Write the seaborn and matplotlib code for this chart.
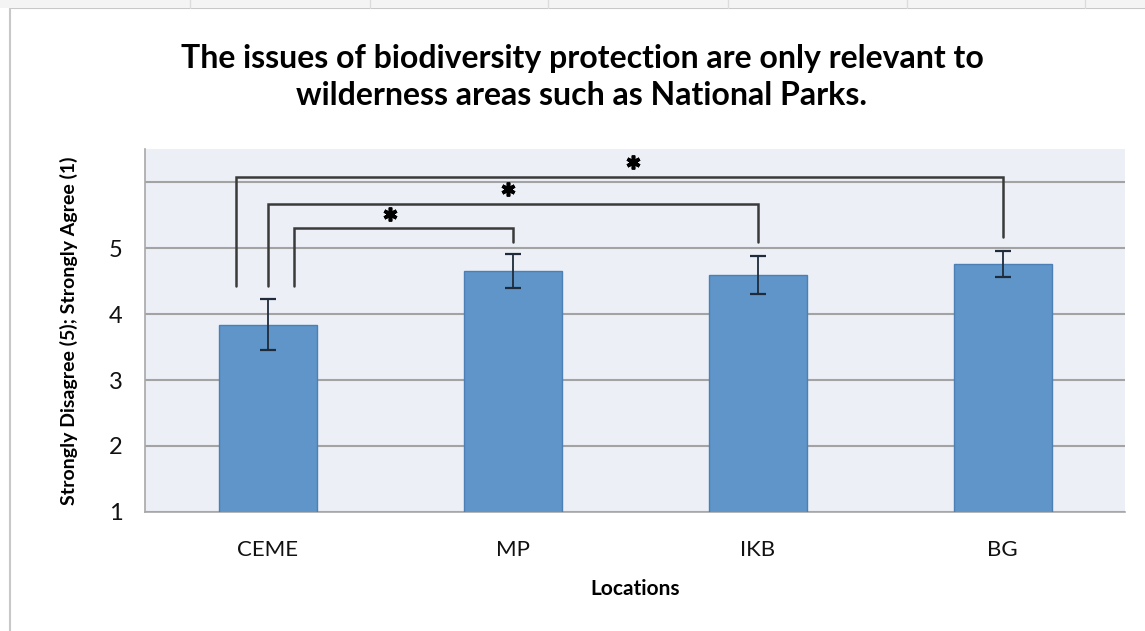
import matplotlib
matplotlib.use("Agg")
import matplotlib.pyplot as plt
import seaborn as sns
import pandas as pd
from matplotlib.patches import Rectangle
from matplotlib.lines import Line2D

# data
locations = ["CEME", "MP", "IKB", "BG"]
means = [3.84, 4.65, 4.59, 4.76]
errors = [0.38, 0.26, 0.29, 0.20]

# significance brackets: left x, right x, bar height, left leg end, right leg end, star x
bracket_left = [0.11, 0.0, -0.13]
bracket_right = [1, 2, 3]
bracket_top = [5.30, 5.67, 6.08]
bracket_left_end = [4.42, 4.42, 4.42]
bracket_right_end = [5.09, 5.09, 5.17]
star_x = [0.50, 0.98, 1.49]

sns.set_style("white")
plt.rcParams["font.family"] = ["Lato", "DejaVu Sans"]
plt.rcParams["text.color"] = "black"
plt.rcParams["axes.labelcolor"] = "black"
plt.rcParams["xtick.labelcolor"] = "#111111"
plt.rcParams["ytick.labelcolor"] = "#111111"

df = pd.DataFrame({"Locations": locations, "Score": means})

fig = plt.figure(figsize=(11.45, 6.31), dpi=100)
# chart border inside a spreadsheet
fig.patches.append(Rectangle((10 / 1145, -0.01), 1.2, 1 - 8 / 631 + 0.01,
                             transform=fig.transFigure, facecolor="white",
                             edgecolor="#c8c8c8", linewidth=1.5, zorder=-10))
fig.patches.append(Rectangle((0, 1 - 8 / 631), 1, 8 / 631, transform=fig.transFigure,
                             facecolor="#f4f4f4", edgecolor="none", zorder=-10))
for cx in [190, 370, 548, 728, 907, 1085]:
    fig.lines.append(Line2D([cx / 1145, cx / 1145], [1 - 8 / 631, 1], transform=fig.transFigure,
                            color="#dcdcdc", linewidth=1, zorder=-9))

ax = fig.add_axes([145 / 1145, 1 - 512 / 631, 980 / 1145, 363 / 631])
ax.set_facecolor("#eceff6")

sns.barplot(data=df, x="Locations", y="Score", color="#5f95c9", width=0.4,
            saturation=1, edgecolor="#4b7fb6", linewidth=1, errorbar=None, ax=ax,
            zorder=3)
ax.errorbar(range(len(locations)), means, yerr=errors, fmt="none", ecolor="#1f2a3a",
            elinewidth=1.3, capsize=6, capthick=1.6, zorder=4)

for i in range(len(bracket_left)):
    xl, xr, top = bracket_left[i], bracket_right[i], bracket_top[i]
    ax.plot([xl, xl, xr, xr], [bracket_left_end[i], top, top, bracket_right_end[i]],
            color="#3a3a3a", linewidth=1.8, zorder=5, solid_joinstyle="miter")
    ax.plot(star_x[i], top + 0.22, marker=(6, 2, 0), markersize=10,
            markeredgewidth=2.6, color="black", zorder=6)

ax.set_ylim(1, 6.5)
ax.set_xlim(-0.5, 3.5)
ax.set_yticks([1, 2, 3, 4, 5, 6])
ax.set_yticklabels(["1", "2", "3", "4", "5", ""])
ax.yaxis.grid(True, color="#a3a3a3", linewidth=1.5, zorder=0)
ax.set_axisbelow(True)
for s in ["top", "right"]:
    ax.spines[s].set_visible(False)
ax.spines["left"].set_color("#a8a8a8")
ax.spines["bottom"].set_color("#a8a8a8")
ax.spines["left"].set_linewidth(1.2)
ax.spines["bottom"].set_linewidth(1.2)

ax.set_xticks([0.5, 1.5, 2.5], minor=True)
ax.tick_params(axis="x", which="major", length=0, labelsize=16, pad=20)
ax.tick_params(axis="x", which="minor", length=7, color="#a8a8a8", width=1.2, direction="out")
ax.tick_params(axis="y", length=8, color="#a8a8a8", width=1.2, labelsize=17, pad=8,
               direction="out")

ax.set_xlabel("Locations", fontsize=15, fontweight="bold", labelpad=14)
ax.set_ylabel("Strongly Disagree (5); Strongly Agree (1)", fontsize=14,
              fontweight="bold", labelpad=22)

fig.text(582 / 1145, 1 - 77 / 631,
         "The issues of biodiversity protection are only relevant to\n"
         "wilderness areas such as National Parks.",
         ha="center", va="center", fontsize=23, fontweight="bold", linespacing=1.3)

fig.savefig("out.png", dpi=100)
